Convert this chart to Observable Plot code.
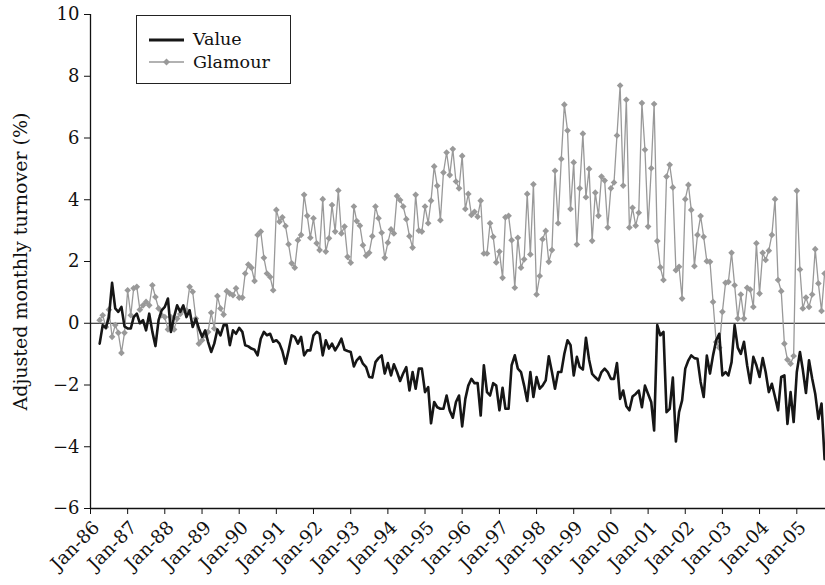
<!DOCTYPE html>
<html><head><meta charset="utf-8">
<script src="https://cdn.jsdelivr.net/npm/d3@7"></script>
<script src="https://cdn.jsdelivr.net/npm/@observablehq/plot@0.6"></script>
<style>
body{margin:0;background:#fff;}
#wrap{position:relative;width:825px;height:585px;}
.legend{position:absolute;left:136px;top:15px;width:153px;height:67px;border:1.3px solid #222;background:#fff;font-family:"DejaVu Serif",serif;font-size:17.5px;color:#111;}
.legend svg{position:absolute;left:0;top:0;}
.legend .t{position:absolute;left:56px;line-height:20px;}
</style></head><body><div id="wrap"></div>
<script>
// first observation: April 1986 (monthly data)
const startYear = 1986, startMonth = 3;
const seriesNames = ["Value", "Glamour"];
const valueSeries = [-0.66,-0.06,-0.15,0.2,1.31,0.48,0.37,0.53,-0.1,-0.17,-0.17,0.2,0.31,0.0,0.1,-0.23,0.31,-0.28,-0.74,0.1,0.42,0.53,0.8,-0.28,0.2,0.58,0.37,0.58,0.2,0.42,-0.12,0.15,-0.17,-0.44,-0.23,-0.6,-0.93,-0.66,-0.2,-0.39,
-0.06,-0.06,-0.71,-0.23,-0.34,-0.15,-0.28,-0.71,-0.75,-0.82,-0.86,-1.04,-0.5,-0.28,-0.39,-0.34,-0.6,-0.55,-0.66,-0.9,-1.31,-0.88,-0.39,-0.44,-0.66,-0.44,-1.04,-0.88,-0.88,-0.39,-0.28,-0.34,-1.04,-0.55,-0.82,-0.66,-0.88,-0.71,
-0.5,-0.86,-0.9,-0.93,-1.4,-1.2,-1.09,-1.31,-1.42,-1.74,-1.76,-1.26,-1.13,-1.04,-1.63,-1.29,-1.69,-1.33,-1.58,-1.87,-1.62,-1.42,-2.18,-1.58,-2.12,-1.47,-1.47,-2.23,-2.07,-3.24,-2.55,-2.72,-2.77,-2.77,-2.34,-2.83,-3.06,-2.55,-2.34,
-3.34,-2.45,-2.02,-1.8,-1.94,-1.94,-2.99,-1.36,-2.23,-2.34,-1.94,-2.02,-2.82,-2.09,-2.77,-2.77,-1.36,-1.04,-1.47,-1.58,-2.02,-2.52,-1.58,-2.39,-1.74,-2.12,-2.02,-1.85,-1.07,-1.58,-2.12,-1.58,-1.58,-0.99,-0.55,-0.71,-1.69,-1.09,-1.42,
-1.5,-0.47,-1.18,-1.64,-1.75,-1.85,-1.58,-1.47,-1.58,-1.8,-1.8,-1.29,-2.45,-2.18,-2.69,-2.82,-2.37,-2.29,-2.18,-2.72,-2.02,-2.29,-2.56,-3.47,-0.06,-0.39,-0.28,-2.88,-2.77,-1.76,-3.83,-2.88,-2.5,-1.47,-1.2,-1.04,-1.13,
-1.15,-1.9,-2.39,-1.05,-1.63,-1.04,-0.55,-0.34,-1.69,-1.58,-1.69,-1.26,-0.06,-0.79,-0.99,-0.6,-1.36,-1.94,-1.09,-1.36,-1.74,-1.13,-1.58,-2.23,-1.96,-2.39,-2.82,-1.74,-1.69,-3.26,-2.23,-3.2,-1.58,-0.93,-1.5,-2.26,-1.2,-1.79,-2.28,-3.1,-2.6,-4.4];
const glamourSeries = [0.1,0.26,-0.12,0.44,-0.44,-0.06,-0.31,-0.96,-0.31,1.07,0.26,1.13,1.18,0.44,0.58,0.69,0.58,1.23,0.85,0.48,0.26,0.2,-0.2,0.2,-0.2,0.15,0.3,0.42,0.42,1.18,1.02,0.15,-0.66,-0.55,-0.39,-0.28,0.34,-0.17,0.88,0.48,
0.28,1.04,0.96,0.91,1.13,0.83,0.83,1.61,1.9,1.8,1.37,2.86,2.97,2.12,1.61,1.5,1.07,3.67,3.29,3.43,3.15,2.56,1.94,1.8,2.69,2.86,4.16,3.48,2.77,3.4,2.59,2.37,4.02,2.32,2.75,3.83,2.97,4.3,
2.91,3.13,2.15,1.96,3.78,3.31,3.16,2.53,2.19,2.28,2.82,3.78,3.4,2.93,2.12,2.61,3.04,2.91,4.12,3.99,3.78,3.37,2.82,2.45,4.16,3.0,2.97,3.78,3.24,3.97,5.08,4.45,3.34,4.88,5.53,4.8,5.64,4.59,4.37,
5.42,3.7,4.19,3.51,3.61,3.45,3.97,2.26,2.26,3.24,2.8,1.97,2.32,1.47,3.43,3.48,2.69,1.15,2.77,1.8,2.07,4.19,2.23,4.5,0.93,1.53,2.72,2.99,1.99,2.37,4.94,3.24,5.32,7.08,6.24,3.7,5.21,2.55,4.37,
6.14,4.08,5.0,2.67,4.23,3.48,4.75,4.62,3.1,4.37,4.56,6.08,7.7,4.46,7.24,3.1,3.74,3.16,3.58,7.13,5.62,3.13,5.02,7.1,2.66,1.81,1.4,4.75,5.13,4.4,1.72,1.83,0.8,4.02,4.48,3.67,1.85,
2.86,3.47,2.8,2.01,1.99,0.69,-0.61,-0.79,0.37,1.31,1.34,2.28,1.23,0.15,0.93,0.15,1.15,1.09,0.53,2.59,0.96,2.28,2.05,2.35,2.86,4.02,1.4,1.04,-0.66,-1.18,-1.31,-1.06,4.29,1.74,0.48,0.83,0.53,0.93,2.4,1.29,0.4,1.61];
const tickYears = [1986,1987,1988,1989,1990,1991,1992,1993,1994,1995,1996,1997,1998,1999,2000,2001,2002,2003,2004,2005];
const tickLabels = ["Jan-86","Jan-87","Jan-88","Jan-89","Jan-90","Jan-91","Jan-92","Jan-93","Jan-94","Jan-95","Jan-96","Jan-97","Jan-98","Jan-99","Jan-00","Jan-01","Jan-02","Jan-03","Jan-04","Jan-05"];
const yTicks = [-6,-4,-2,0,2,4,6,8,10];
const yLabel = "Adjusted monthly turnover (%)";

const monthDate = i => new Date(Date.UTC(startYear, startMonth + i, 1));
const valueData = valueSeries.map((v, i) => ({date: monthDate(i), v}));
const glamourData = glamourSeries.map((v, i) => ({date: monthDate(i), v}));
const tickDates = tickYears.map(y => new Date(Date.UTC(y, 0, 1)));
const labelOf = new Map(tickDates.map((d, i) => [+d, tickLabels[i]]));
const xStart = new Date(Date.UTC(1986, 0, 1));
const xEnd = new Date(Date.UTC(2005, 9, 10));

const GRAY = "#999999";
const INK = "#111";
const chart = Plot.plot({
  width: 825, height: 585,
  marginLeft: 90, marginRight: 0, marginTop: 14, marginBottom: 77,
  style: {fontFamily: "'DejaVu Serif', serif", fontSize: "18px", color: INK, background: "#fff", overflow: "visible"},
  x: {type: "utc", domain: [xStart, xEnd]},
  y: {domain: [-6, 10]},
  marks: [
    Plot.ruleY([0], {stroke: INK, strokeWidth: 1}),
    Plot.ruleX([xStart], {stroke: INK, strokeWidth: 1.3}),
    Plot.ruleY([-6], {stroke: INK, strokeWidth: 1.3}),
    Plot.axisY({ticks: yTicks, tickSize: 6, tickPadding: 5, label: null, stroke: INK, fill: INK}),
    Plot.axisX({ticks: tickDates, tickFormat: () => "", tickSize: 6, label: null, stroke: INK}),
    Plot.axisX({ticks: tickDates, tickFormat: d => labelOf.get(+d), tickRotate: -45, tickSize: 0, tickPadding: 16, dx: 6, label: null, fill: INK, fontSize: 18.5}),
    Plot.text([yLabel], {text: d => d, frameAnchor: "left", textAnchor: "middle", rotate: -90, dx: -70, fill: INK, fontSize: 19}),
    Plot.line(glamourData, {x: "date", y: "v", stroke: GRAY, strokeWidth: 1.3}),
    Plot.dot(glamourData, {x: "date", y: "v", symbol: "diamond2", r: 3, fill: GRAY, stroke: "none"}),
    Plot.line(valueData, {x: "date", y: "v", stroke: "#161616", strokeWidth: 2.6})
  ]
});
const wrap = document.getElementById("wrap");
wrap.appendChild(chart);

const lg = document.createElement("div");
lg.className = "legend";
lg.innerHTML = `<svg width="153" height="67">
<line x1="12" x2="47" y1="24" y2="24" stroke="#161616" stroke-width="3"/>
<line x1="12" x2="47" y1="46" y2="46" stroke="${GRAY}" stroke-width="1.3"/>
<path d="M29.5,42.5 L33,46 L29.5,49.5 L26,46 Z" fill="${GRAY}"/>
</svg>
<div class="t" style="top:13px">${seriesNames[0]}</div>
<div class="t" style="top:36px">${seriesNames[1]}</div>`;
wrap.appendChild(lg);
</script>
</body></html>
